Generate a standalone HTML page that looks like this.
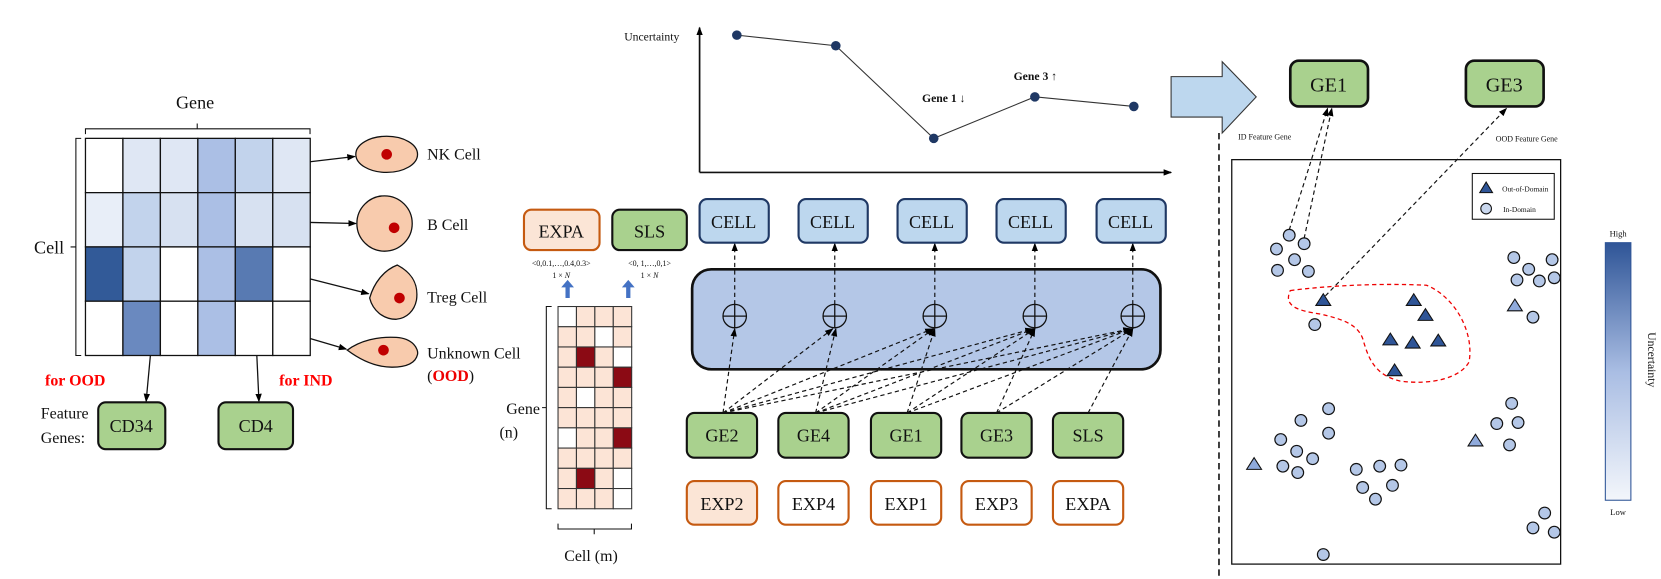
<!DOCTYPE html>
<html><head><meta charset="utf-8"><style>html,body{margin:0;padding:0;background:#fff}svg{display:block}text{font-family:"Liberation Serif",serif;fill:#111}</style></head><body>
<svg width="1661" height="579" viewBox="0 0 1560 544" xmlns="http://www.w3.org/2000/svg">
<defs>
<marker id="a" markerWidth="8" markerHeight="8" refX="7" refY="4" orient="auto" markerUnits="userSpaceOnUse"><path d="M0,1 L8,4 L0,7 z" fill="#000"/></marker>
<linearGradient id="cb" x1="0" y1="0" x2="0" y2="1"><stop offset="0" stop-color="#2f5597"/><stop offset="0.5" stop-color="#a9bde3"/><stop offset="1" stop-color="#f3f6fb"/></linearGradient>
</defs>
<g stroke="#111" stroke-width="1.2">
<rect x="80" y="130" width="35.2" height="51" fill="#fff"/><rect x="115.2" y="130" width="35.2" height="51" fill="#dfe7f4"/><rect x="150.4" y="130" width="35.2" height="51" fill="#dfe7f4"/><rect x="185.6" y="130" width="35.2" height="51" fill="#abbfe5"/><rect x="220.8" y="130" width="35.2" height="51" fill="#c2d3ec"/><rect x="256" y="130" width="35.2" height="51" fill="#dfe7f4"/>
<rect x="80" y="181" width="35.2" height="51" fill="#e8eef8"/><rect x="115.2" y="181" width="35.2" height="51" fill="#c2d3ec"/><rect x="150.4" y="181" width="35.2" height="51" fill="#d7e1f1"/><rect x="185.6" y="181" width="35.2" height="51" fill="#abbfe5"/><rect x="220.8" y="181" width="35.2" height="51" fill="#d7e1f1"/><rect x="256" y="181" width="35.2" height="51" fill="#d7e1f1"/>
<rect x="80" y="232" width="35.2" height="51" fill="#325a98"/><rect x="115.2" y="232" width="35.2" height="51" fill="#c2d3ec"/><rect x="150.4" y="232" width="35.2" height="51" fill="#fff"/><rect x="185.6" y="232" width="35.2" height="51" fill="#abbfe5"/><rect x="220.8" y="232" width="35.2" height="51" fill="#587ab2"/><rect x="256" y="232" width="35.2" height="51" fill="#fff"/>
<rect x="80" y="283" width="35.2" height="51" fill="#fff"/><rect x="115.2" y="283" width="35.2" height="51" fill="#6a89bf"/><rect x="150.4" y="283" width="35.2" height="51" fill="#fff"/><rect x="185.6" y="283" width="35.2" height="51" fill="#abbfe5"/><rect x="220.8" y="283" width="35.2" height="51" fill="#fff"/><rect x="256" y="283" width="35.2" height="51" fill="#fff"/>
</g>
<path d="M80,126 V121 H291 V126 M185,121 V116" fill="none" stroke="#111" stroke-width="1"/>
<text x="183" y="102" font-size="17" text-anchor="middle">Gene</text>
<path d="M76,130 H71 V334 H76 M71,232 H66" fill="none" stroke="#111" stroke-width="1"/>
<text x="60" y="238" font-size="17" text-anchor="end">Cell</text>
<g stroke="#111" stroke-width="1.2" fill="#f8cbad">
<ellipse cx="363" cy="145" rx="29" ry="17"/>
<circle cx="361" cy="210" r="26"/>
<path d="M373,249 C388,257 393,268 391,282 C389,292 382,299 372,300 C360,300 350,292 347,280 C351,266 360,254 373,249 Z"/>
<path d="M326,329 C338,320 355,316 372,317 C388,318 393,328 392,333 C390,342 380,345 368,345 C352,345 338,338 326,329 Z"/>
</g>
<g fill="#c00000"><circle cx="363" cy="145" r="5"/><circle cx="370" cy="214" r="5"/><circle cx="375" cy="280" r="5"/><circle cx="360" cy="329" r="5"/></g>
<g stroke="#111" stroke-width="1.2" marker-end="url(#a)"><line x1="291" y1="152" x2="333" y2="147"/><line x1="291" y1="209" x2="334" y2="210"/><line x1="291" y1="262" x2="346" y2="276"/><line x1="291" y1="318" x2="325" y2="328"/><line x1="141" y1="334" x2="137" y2="377"/><line x1="241" y1="334" x2="243" y2="377"/></g>
<g font-size="15"><text x="401" y="150">NK Cell</text><text x="401" y="216">B Cell</text><text x="401" y="284">Treg Cell</text><text x="401" y="337">Unknown Cell</text><text x="401" y="358">(<tspan font-weight="bold" style="fill:#e00">OOD</tspan>)</text></g>
<text x="42" y="362" font-size="15" font-weight="bold" style="fill:#f00">for OOD</text>
<text x="262" y="362" font-size="15" font-weight="bold" style="fill:#f00">for IND</text>
<text x="38" y="393" font-size="15">Feature</text><text x="38" y="416" font-size="15">Genes:</text>
<g stroke="#111" stroke-width="2" fill="#a9d18e"><rect x="92" y="378" width="63" height="44" rx="7"/><rect x="205" y="378" width="70" height="44" rx="7"/></g>
<g font-size="17" text-anchor="middle"><text x="123" y="406">CD34</text><text x="240" y="406">CD4</text></g>
<g stroke="#111" stroke-width="1.6" fill="none" marker-end="url(#a)"><line x1="657" y1="162" x2="657" y2="26"/><line x1="657" y1="162" x2="1100" y2="162"/></g>
<polyline points="692,33 785,43 877,130 972,91 1065,100" fill="none" stroke="#333" stroke-width="1"/>
<g fill="#1f3864"><circle cx="692" cy="33" r="4.5"/><circle cx="785" cy="43" r="4.5"/><circle cx="877" cy="130" r="4.5"/><circle cx="972" cy="91" r="4.5"/><circle cx="1065" cy="100" r="4.5"/></g>
<text x="638" y="38" font-size="11" text-anchor="end">Uncertainty</text>
<text x="866" y="96" font-size="11" font-weight="bold">Gene 1 ↓</text>
<text x="952" y="75" font-size="11" font-weight="bold">Gene 3 ↑</text>
<path d="M1100,72 H1148 V58 L1180,91 L1148,125 V110 H1100 Z" fill="#bdd7ee" stroke="#333" stroke-width="1"/>
<rect x="492" y="197" width="71" height="38" rx="7" fill="#fbe5d6" stroke="#c55a11" stroke-width="2"/>
<rect x="575" y="197" width="70" height="38" rx="7" fill="#a9d18e" stroke="#111" stroke-width="2"/>
<g font-size="17" text-anchor="middle"><text x="527" y="223">EXPA</text><text x="610" y="223">SLS</text></g>
<g font-size="7.5" text-anchor="middle"><text x="527" y="250">&lt;0,0.1,…,0.4,0.3&gt;</text><text x="527" y="261">1 × <tspan font-style="italic">N</tspan></text><text x="610" y="250">&lt;0, 1,…,0,1&gt;</text><text x="610" y="261">1 × <tspan font-style="italic">N</tspan></text></g>
<g fill="#4472c4"><path d="M531,280 V270 H527 L533,263 L539,270 H535 V280 Z"/><path d="M588,280 V270 H584 L590,263 L596,270 H592 V280 Z"/></g>
<g stroke="#333" stroke-width="1">
<rect x="524" y="288" width="17.3" height="19" fill="#fff"/><rect x="541.3" y="288" width="17.3" height="19" fill="#fce4d6"/><rect x="558.6" y="288" width="17.3" height="19" fill="#fce4d6"/><rect x="575.9" y="288" width="17.3" height="19" fill="#fce4d6"/>
<rect x="524" y="307" width="17.3" height="19" fill="#fce4d6"/><rect x="541.3" y="307" width="17.3" height="19" fill="#fce4d6"/><rect x="558.6" y="307" width="17.3" height="19" fill="#fff"/><rect x="575.9" y="307" width="17.3" height="19" fill="#fce4d6"/>
<rect x="524" y="326" width="17.3" height="19" fill="#fce4d6"/><rect x="541.3" y="326" width="17.3" height="19" fill="#8b0a14"/><rect x="558.6" y="326" width="17.3" height="19" fill="#fce4d6"/><rect x="575.9" y="326" width="17.3" height="19" fill="#fff"/>
<rect x="524" y="345" width="17.3" height="19" fill="#fce4d6"/><rect x="541.3" y="345" width="17.3" height="19" fill="#fce4d6"/><rect x="558.6" y="345" width="17.3" height="19" fill="#fce4d6"/><rect x="575.9" y="345" width="17.3" height="19" fill="#8b0a14"/>
<rect x="524" y="364" width="17.3" height="19" fill="#fce4d6"/><rect x="541.3" y="364" width="17.3" height="19" fill="#fff"/><rect x="558.6" y="364" width="17.3" height="19" fill="#fce4d6"/><rect x="575.9" y="364" width="17.3" height="19" fill="#fce4d6"/>
<rect x="524" y="383" width="17.3" height="19" fill="#fce4d6"/><rect x="541.3" y="383" width="17.3" height="19" fill="#fce4d6"/><rect x="558.6" y="383" width="17.3" height="19" fill="#fce4d6"/><rect x="575.9" y="383" width="17.3" height="19" fill="#fce4d6"/>
<rect x="524" y="402" width="17.3" height="19" fill="#fff"/><rect x="541.3" y="402" width="17.3" height="19" fill="#fce4d6"/><rect x="558.6" y="402" width="17.3" height="19" fill="#fce4d6"/><rect x="575.9" y="402" width="17.3" height="19" fill="#8b0a14"/>
<rect x="524" y="421" width="17.3" height="19" fill="#fce4d6"/><rect x="541.3" y="421" width="17.3" height="19" fill="#fce4d6"/><rect x="558.6" y="421" width="17.3" height="19" fill="#fce4d6"/><rect x="575.9" y="421" width="17.3" height="19" fill="#fce4d6"/>
<rect x="524" y="440" width="17.3" height="19" fill="#fce4d6"/><rect x="541.3" y="440" width="17.3" height="19" fill="#8b0a14"/><rect x="558.6" y="440" width="17.3" height="19" fill="#fce4d6"/><rect x="575.9" y="440" width="17.3" height="19" fill="#fff"/>
<rect x="524" y="459" width="17.3" height="19" fill="#fce4d6"/><rect x="541.3" y="459" width="17.3" height="19" fill="#fce4d6"/><rect x="558.6" y="459" width="17.3" height="19" fill="#fce4d6"/><rect x="575.9" y="459" width="17.3" height="19" fill="#fff"/>
</g>
<path d="M518,288 H513 V478 H518 M513,383 H509 M524,492 V497 H593 V492 M558,497 V502" fill="none" stroke="#111" stroke-width="1"/>
<g font-size="15"><text x="507" y="389" text-anchor="end">Gene</text><text x="469" y="411">(n)</text><text x="555" y="527" text-anchor="middle">Cell (m)</text></g>
<rect x="650" y="253" width="440" height="94" rx="18" fill="#b4c7e7" stroke="#111" stroke-width="2.5"/>
<g stroke="#111" stroke-width="1.2" fill="none">
<circle cx="690" cy="297" r="11"/><circle cx="784" cy="297" r="11"/><circle cx="878" cy="297" r="11"/><circle cx="972" cy="297" r="11"/><circle cx="1064" cy="297" r="11"/>
<path d="M679,297 H701 M690,286 V308 M773,297 H795 M784,286 V308 M867,297 H889 M878,286 V308 M961,297 H983 M972,286 V308 M1053,297 H1075 M1064,286 V308"/>
</g>
<g stroke="#111" stroke-width="1.1" stroke-dasharray="4,3" marker-end="url(#a)" fill="none">
<line x1="690" y1="286" x2="690" y2="229"/><line x1="784" y1="286" x2="784" y2="229"/><line x1="878" y1="286" x2="878" y2="229"/><line x1="972" y1="286" x2="972" y2="229"/><line x1="1064" y1="286" x2="1064" y2="229"/>
<line x1="679" y1="388" x2="690" y2="309"/><line x1="679" y1="388" x2="782" y2="309"/><line x1="679" y1="388" x2="876" y2="309"/><line x1="679" y1="388" x2="970" y2="309"/><line x1="679" y1="388" x2="1062" y2="309"/>
<line x1="766" y1="388" x2="785" y2="309"/><line x1="766" y1="388" x2="877" y2="309"/><line x1="766" y1="388" x2="971" y2="309"/><line x1="766" y1="388" x2="1063" y2="309"/>
<line x1="852" y1="388" x2="878" y2="309"/><line x1="852" y1="388" x2="972" y2="309"/><line x1="852" y1="388" x2="1063" y2="309"/>
<line x1="936" y1="388" x2="972" y2="309"/><line x1="936" y1="388" x2="1064" y2="309"/>
<line x1="1022" y1="388" x2="1064" y2="309"/>
</g>
<g stroke="#1f3864" stroke-width="2" fill="#bdd7ee"><rect x="657" y="187" width="65" height="41" rx="7"/><rect x="750" y="187" width="65" height="41" rx="7"/><rect x="843" y="187" width="65" height="41" rx="7"/><rect x="936" y="187" width="65" height="41" rx="7"/><rect x="1030" y="187" width="65" height="41" rx="7"/></g>
<g font-size="17" text-anchor="middle"><text x="689" y="214">CELL</text><text x="782" y="214">CELL</text><text x="875" y="214">CELL</text><text x="968" y="214">CELL</text><text x="1062" y="214">CELL</text></g>
<g stroke="#111" stroke-width="2" fill="#a9d18e"><rect x="645" y="388" width="66" height="42" rx="7"/><rect x="731" y="388" width="66" height="42" rx="7"/><rect x="818" y="388" width="66" height="42" rx="7"/><rect x="903" y="388" width="66" height="42" rx="7"/><rect x="989" y="388" width="66" height="42" rx="7"/></g>
<g font-size="17" text-anchor="middle"><text x="678" y="415">GE2</text><text x="764" y="415">GE4</text><text x="851" y="415">GE1</text><text x="936" y="415">GE3</text><text x="1022" y="415">SLS</text></g>
<g stroke="#c55a11" stroke-width="2" fill="#fff"><rect x="645" y="452" width="66" height="41" rx="7" fill="#fbe5d6"/><rect x="731" y="452" width="66" height="41" rx="7"/><rect x="818" y="452" width="66" height="41" rx="7"/><rect x="903" y="452" width="66" height="41" rx="7"/><rect x="989" y="452" width="66" height="41" rx="7"/></g>
<g font-size="17" text-anchor="middle"><text x="678" y="479">EXP2</text><text x="764" y="479">EXP4</text><text x="851" y="479">EXP1</text><text x="936" y="479">EXP3</text><text x="1022" y="479">EXPA</text></g>
<line x1="1145" y1="125" x2="1145" y2="544" stroke="#111" stroke-width="1.5" stroke-dasharray="6,4"/>
<g stroke="#111" stroke-width="2.5" fill="#a9d18e"><rect x="1212" y="57" width="73" height="43" rx="8"/><rect x="1377" y="57" width="73" height="43" rx="8"/></g>
<g font-size="19" text-anchor="middle"><text x="1248" y="86">GE1</text><text x="1413" y="86">GE3</text></g>
<g font-size="7.5"><text x="1163" y="131">ID Feature Gene</text><text x="1405" y="133">OOD Feature Gene</text></g>
<rect x="1157" y="150" width="309" height="380" fill="#fff" stroke="#111" stroke-width="1.2"/>
<rect x="1383" y="163" width="77" height="43" fill="#fff" stroke="#111" stroke-width="1"/>
<path d="M1390,181 L1396,171 L1402,181 Z" fill="#2f5597" stroke="#111" stroke-width="1"/>
<circle cx="1396" cy="196" r="5" fill="#c9d7ee" stroke="#111" stroke-width="1"/>
<g font-size="7"><text x="1411" y="180">Out-of-Domain</text><text x="1412" y="199">In-Domain</text></g>
<path d="M1212,273 C1250,268 1300,266 1340,268 C1365,278 1385,310 1380,340 C1372,355 1345,362 1315,358 C1290,352 1285,335 1280,318 C1275,305 1262,300 1240,295 C1220,292 1205,288 1212,273 Z" fill="none" stroke="#e00" stroke-width="1.2" stroke-dasharray="4,3"/>
<g stroke="#111" stroke-width="1.1" stroke-dasharray="4,3" fill="none" marker-end="url(#a)"><line x1="1211" y1="216" x2="1247" y2="102"/><line x1="1225" y1="224" x2="1251" y2="102"/><line x1="1245" y1="278" x2="1415" y2="102"/></g>
<g fill="#b4c7e7" stroke="#111" stroke-width="1.1">
<circle cx="1211" cy="221" r="5.5"/><circle cx="1199" cy="234" r="5.5"/><circle cx="1225" cy="229" r="5.5"/><circle cx="1216" cy="244" r="5.5"/><circle cx="1200" cy="254" r="5.5"/><circle cx="1229" cy="255" r="5.5"/><circle cx="1235" cy="305" r="5.5"/>
<circle cx="1422" cy="242" r="5.5"/><circle cx="1436" cy="253" r="5.5"/><circle cx="1458" cy="244" r="5.5"/><circle cx="1446" cy="264" r="5.5"/><circle cx="1425" cy="263" r="5.5"/><circle cx="1460" cy="261" r="5.5"/><circle cx="1440" cy="298" r="5.5"/>
<circle cx="1248" cy="384" r="5.5"/><circle cx="1222" cy="395" r="5.5"/><circle cx="1248" cy="407" r="5.5"/><circle cx="1203" cy="413" r="5.5"/><circle cx="1218" cy="424" r="5.5"/><circle cx="1233" cy="431" r="5.5"/><circle cx="1205" cy="438" r="5.5"/><circle cx="1219" cy="444" r="5.5"/>
<circle cx="1274" cy="441" r="5.5"/><circle cx="1296" cy="438" r="5.5"/><circle cx="1316" cy="437" r="5.5"/><circle cx="1280" cy="458" r="5.5"/><circle cx="1308" cy="456" r="5.5"/><circle cx="1292" cy="469" r="5.5"/>
<circle cx="1420" cy="379" r="5.5"/><circle cx="1426" cy="397" r="5.5"/><circle cx="1406" cy="398" r="5.5"/><circle cx="1418" cy="418" r="5.5"/>
<circle cx="1451" cy="482" r="5.5"/><circle cx="1440" cy="496" r="5.5"/><circle cx="1460" cy="500" r="5.5"/><circle cx="1243" cy="521" r="5.5"/>
</g>
<g fill="#2f5597" stroke="#111" stroke-width="1">
<path d="M1243,276 l7,11 h-14 z"/><path d="M1328,276 l7,11 h-14 z"/><path d="M1339,290 l7,11 h-14 z"/><path d="M1306,313 l7,11 h-14 z"/><path d="M1327,316 l7,11 h-14 z"/><path d="M1351,314 l7,11 h-14 z"/><path d="M1310,342 l7,11 h-14 z"/>
</g>
<g fill="#8faadc" stroke="#111" stroke-width="1"><path d="M1423,281 l7,11 h-14 z"/><path d="M1178,430 l7,11 h-14 z"/><path d="M1386,408 l7,11 h-14 z"/></g>
<rect x="1508" y="228" width="24" height="242" fill="url(#cb)" stroke="#2f5597" stroke-width="1"/>
<g font-size="8" text-anchor="middle"><text x="1520" y="222">High</text><text x="1520" y="484">Low</text></g>
<text x="1548" y="338" font-size="11" text-anchor="middle" transform="rotate(90 1548 338)">Uncertainty</text>
</svg>
</body></html>
